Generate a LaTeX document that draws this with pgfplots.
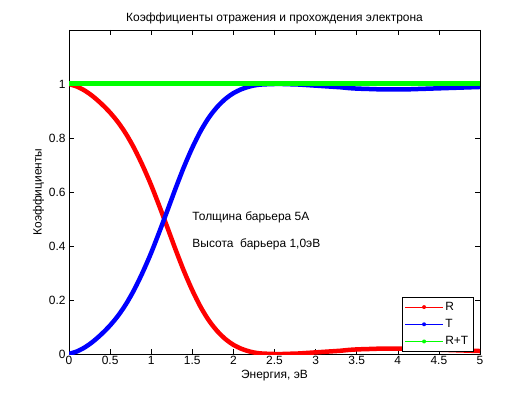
\documentclass[border=0pt]{standalone}
\usepackage{pgfplots}
\pgfplotsset{compat=1.18}
\usepackage{fontspec}
\setmainfont{Liberation Sans}
\definecolor{mred}{RGB}{255,0,0}
\definecolor{mblue}{RGB}{0,0,255}
\definecolor{mgreen}{RGB}{0,255,0}
\begin{document}
\begin{tikzpicture}
\useasboundingbox (-69bp,-43bp) rectangle (460bp,354bp);
\begin{axis}[
  scale only axis,
  width=411bp, height=324bp,
  xmin=0, xmax=5, ymin=0, ymax=1.2,
  xtick={0,0.5,...,5}, ytick={0,0.2,...,1},
  xticklabels={0,0.5,1,1.5,2,2.5,3,3.5,4,4.5,5},
  yticklabels={0,0.2,0.4,0.6,0.8,1},
  tick align=inside, tick pos=both,
  major tick length=5bp,
  /pgf/number format/assume math mode=true,
  tick label style={font=\fontsize{12}{14}\selectfont},
  xticklabel style={yshift=1bp},
  title={Коэффициенты отражения и прохождения электрона},
  title style={font=\fontsize{12}{14}\selectfont, yshift=-3bp},
  xlabel={Энергия, эВ},
  ylabel={Коэффициенты},
  label style={font=\fontsize{12}{14}\selectfont},
  xlabel style={yshift=2bp},
  ylabel style={yshift=-2bp},
  legend style={at={(0.983,0.009)}, anchor=south east,
    font=\fontsize{12}{14}\selectfont, draw=black, line width=0.5pt,
    row sep=3.5bp, inner sep=2.5bp},
  legend cell align=left,
  legend image code/.code={\draw[line width=0.6pt] (0bp,0bp) -- (38bp,0bp);
    \fill[draw=none] (19bp,0bp) circle (2bp);},
  axis line style={line width=0.6pt},
  every tick/.style={black, line width=0.5pt},
]
\addplot[mred, line width=4.5bp, smooth, line join=round] coordinates {
(0.0,1.000)(0.1,0.990)(0.2,0.974)(0.3,0.952)(0.4,0.925)(0.5,0.894)(0.6,0.857)
(0.7,0.812)(0.8,0.758)(0.9,0.695)(1.0,0.625)(1.1,0.547)(1.2,0.466)(1.3,0.384)
(1.4,0.306)(1.5,0.236)(1.6,0.175)(1.7,0.125)(1.8,0.086)(1.9,0.056)(2.0,0.034)
(2.1,0.019)(2.2,0.009)(2.3,0.003)(2.4,0.001)(2.5,0.000)(2.6,0.000)(2.7,0.001)
(2.8,0.002)(2.9,0.004)(3.0,0.006)(3.1,0.008)(3.2,0.010)(3.3,0.012)(3.4,0.015)
(3.5,0.017)(3.6,0.018)(3.7,0.019)(3.8,0.020)(3.9,0.020)(4.0,0.020)(4.1,0.020)
(4.2,0.019)(4.3,0.018)(4.4,0.017)(4.5,0.016)(4.6,0.015)(4.7,0.014)(4.8,0.013)
(4.9,0.012)(5.0,0.011)
};
\addlegendentry{R}
\addplot[mblue, line width=4.5bp, smooth, line join=round] coordinates {
(0.0,0.000)(0.1,0.010)(0.2,0.026)(0.3,0.048)(0.4,0.075)(0.5,0.106)(0.6,0.143)
(0.7,0.188)(0.8,0.242)(0.9,0.305)(1.0,0.375)(1.1,0.453)(1.2,0.534)(1.3,0.616)
(1.4,0.694)(1.5,0.764)(1.6,0.825)(1.7,0.875)(1.8,0.914)(1.9,0.944)(2.0,0.966)
(2.1,0.981)(2.2,0.991)(2.3,0.997)(2.4,0.999)(2.5,1.000)(2.6,1.000)(2.7,0.999)
(2.8,0.998)(2.9,0.996)(3.0,0.994)(3.1,0.992)(3.2,0.990)(3.3,0.988)(3.4,0.985)
(3.5,0.983)(3.6,0.982)(3.7,0.981)(3.8,0.980)(3.9,0.980)(4.0,0.980)(4.1,0.980)
(4.2,0.981)(4.3,0.982)(4.4,0.983)(4.5,0.984)(4.6,0.985)(4.7,0.986)(4.8,0.987)
(4.9,0.988)(5.0,0.989)
};
\addlegendentry{T}
\addplot[mgreen, line width=5bp] coordinates {
(0.0,1.000)(0.5,1.000)(1.0,1.000)(1.5,1.000)(2.0,1.000)(2.5,1.000)(3.0,1.000)
(3.5,1.000)(4.0,1.000)(4.5,1.000)(5.0,1.000)
};
\addlegendentry{R+T}
\node[anchor=west, inner sep=0pt, font=\fontsize{12}{14}\selectfont] at (axis cs:1.5,0.505) {Толщина барьера 5А};
\node[anchor=west, inner sep=0pt, font=\fontsize{12}{14}\selectfont] at (axis cs:1.5,0.405) {Высота\ \ барьера 1,0эВ};
\end{axis}
\end{tikzpicture}
\end{document}
